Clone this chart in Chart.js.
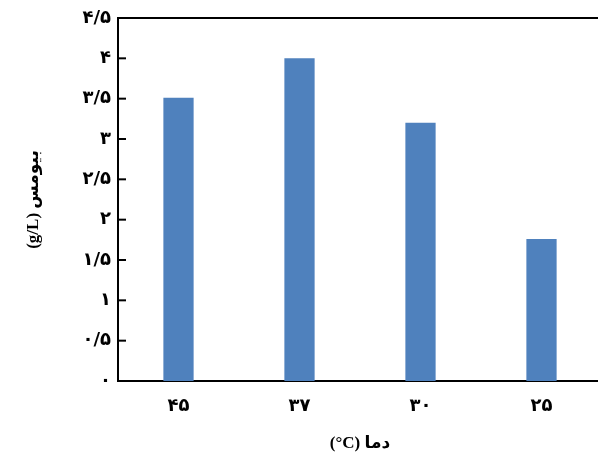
<!DOCTYPE html>
<html lang="fa">
<head>
<meta charset="utf-8">
<script src="https://cdn.jsdelivr.net/npm/chart.js@4"></script>
<style>
  html, body { margin: 0; padding: 0; background: #fff; overflow: hidden; }
  #wrap { width: 598px; height: 461px; overflow: hidden; }
</style>
</head>
<body>
<div id="wrap"><canvas id="c" dir="rtl" width="602" height="461"></canvas></div>
<script>
const categories = ['۴۵', '۳۷', '۳۰', '۲۵'];
const biomass = [3.51, 4.0, 3.2, 1.76];
const yTickLabels = ['۰', '۰/۵', '۱', '۱/۵', '۲', '۲/۵', '۳', '۳/۵', '۴', '۴/۵'];
const xTitle = 'دما (\u200E°C)';
const yTitle = 'بیومس (g/L)';

const frame = {
  id: 'frame',
  afterDraw(chart) {
    const ctx = chart.ctx;
    const a = chart.chartArea;
    const ys = chart.scales.y;
    ctx.save();
    ctx.strokeStyle = '#000';
    ctx.lineWidth = 2;
    ctx.beginPath();
    ctx.moveTo(a.left - 1, a.top);
    ctx.lineTo(a.right, a.top);
    ctx.stroke();
    ys.ticks.forEach(t => {
      const y = ys.getPixelForValue(t.value);
      ctx.beginPath();
      ctx.moveTo(a.left, y);
      ctx.lineTo(a.left + 8, y);
      ctx.stroke();
    });
    ctx.restore();
  }
};

new Chart(document.getElementById('c'), {
  type: 'bar',
  data: {
    labels: categories,
    datasets: [{
      data: biomass,
      backgroundColor: '#4F81BD',
      borderWidth: 0,
      barPercentage: 0.25,
      categoryPercentage: 1.0
    }]
  },
  options: {
    responsive: false,
    animation: false,
    devicePixelRatio: 1,
    layout: { padding: { top: 18, right: 0, left: 0, bottom: 0 } },
    plugins: { legend: { display: false }, tooltip: { enabled: false } },
    scales: {
      x: {
        grid: { display: false, drawTicks: false },
        border: { display: true, color: '#000', width: 2 },
        ticks: {
          color: '#000',
          padding: 15,
          font: { family: "'DejaVu Sans', sans-serif", size: 18, weight: 'bold' }
        },
        title: {
          display: true,
          text: xTitle,
          color: '#000',
          padding: { top: 0, bottom: 7 },
          font: { family: "'Liberation Serif', 'DejaVu Sans', serif", size: 17, weight: 'bold' }
        },
        afterFit(s) { s.height = 80; }
      },
      y: {
        min: 0,
        max: 4.5,
        grid: { display: false, drawTicks: false },
        border: { display: true, color: '#000', width: 2 },
        ticks: {
          stepSize: 0.5,
          color: '#000',
          padding: 7,
          font: { family: "'DejaVu Sans', sans-serif", size: 18, weight: 'bold' },
          callback: (v, i) => yTickLabels[i]
        },
        title: {
          display: true,
          text: yTitle,
          color: '#000',
          padding: { top: 23, bottom: 0 },
          font: { family: "'Liberation Serif', 'DejaVu Sans', serif", size: 17, weight: 'bold' }
        },
        afterFit(s) { s.width = 118; }
      }
    }
  },
  plugins: [frame]
});
</script>
</body>
</html>
